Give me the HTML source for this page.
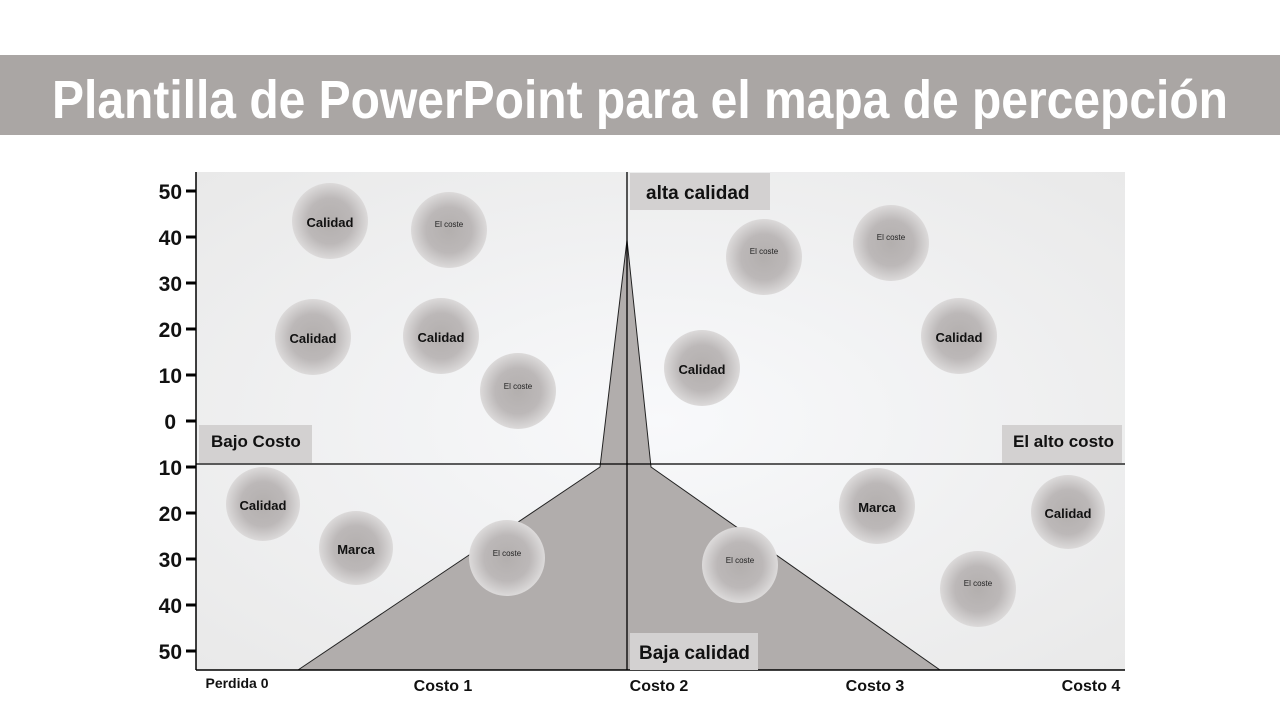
<!DOCTYPE html>
<html><head><meta charset="utf-8"><style>
body{margin:0;width:1280px;height:720px;background:#fff;overflow:hidden;font-family:"Liberation Sans",sans-serif}
</style></head><body>
<svg width="1280" height="720" xmlns="http://www.w3.org/2000/svg" font-family="Liberation Sans, sans-serif">
<defs>
<radialGradient id="bg" cx="0.5" cy="0.5" r="0.7">
<stop offset="0" stop-color="#f8f9fb"/><stop offset="1" stop-color="#e9e9e9"/>
</radialGradient>
<radialGradient id="b" cx="0.5" cy="0.5" r="0.5">
<stop offset="0" stop-color="#b3afae"/><stop offset="0.6" stop-color="#bcb8b8"/><stop offset="1" stop-color="#dcdada"/>
</radialGradient>
</defs>
<rect x="0" y="55" width="1280" height="80" fill="#aaa6a4"/>
<text x="52" y="118" textLength="1176" lengthAdjust="spacingAndGlyphs" font-size="54" font-weight="bold" fill="#fff">Plantilla de PowerPoint para el mapa de percepción</text>
<rect x="196" y="172" width="929" height="498" fill="url(#bg)"/>
<polygon points="298,670 600,467 627,240 651,467 940,670" fill="#b1adac" stroke="#222" stroke-width="1"/>
<line x1="196" y1="464" x2="1125" y2="464" stroke="#000" stroke-width="1.3"/>
<line x1="627" y1="172" x2="627" y2="670" stroke="#000" stroke-width="1.3"/>
<line x1="196" y1="172" x2="196" y2="670" stroke="#000" stroke-width="1.5"/>
<line x1="196" y1="670" x2="1125" y2="670" stroke="#000" stroke-width="1.5"/>
<g stroke="#000" stroke-width="3">
<line x1="186" y1="191" x2="196" y2="191"/><line x1="186" y1="237" x2="196" y2="237"/><line x1="186" y1="283" x2="196" y2="283"/><line x1="186" y1="329" x2="196" y2="329"/><line x1="186" y1="375" x2="196" y2="375"/><line x1="186" y1="421" x2="196" y2="421"/><line x1="186" y1="467" x2="196" y2="467"/><line x1="186" y1="513" x2="196" y2="513"/><line x1="186" y1="559" x2="196" y2="559"/><line x1="186" y1="605" x2="196" y2="605"/><line x1="186" y1="651" x2="196" y2="651"/>
</g>
<g font-size="21" font-weight="bold" text-anchor="end" fill="#111">
<text x="182" y="199">50</text><text x="182" y="245">40</text><text x="182" y="291">30</text><text x="182" y="337">20</text><text x="182" y="383">10</text><text x="176" y="429">0</text><text x="182" y="475">10</text><text x="182" y="521">20</text><text x="182" y="567">30</text><text x="182" y="613">40</text><text x="182" y="659">50</text>
</g>
<g font-size="16" font-weight="bold" fill="#111" text-anchor="middle">
<text x="237" y="688" font-size="14">Perdida 0</text><text x="443" y="691">Costo 1</text><text x="659" y="691">Costo 2</text><text x="875" y="691">Costo 3</text><text x="1091" y="691">Costo 4</text>
</g>
<g fill="#d3d1d1">
<rect x="630" y="173" width="140" height="37"/><rect x="199" y="425" width="113" height="38"/><rect x="1002" y="425" width="120" height="38"/><rect x="630" y="633" width="128" height="37"/>
</g>
<g font-size="19" font-weight="bold" fill="#111">
<text x="646" y="199">alta calidad</text><text x="211" y="447" font-size="17">Bajo Costo</text><text x="1013" y="447" font-size="17">El alto costo</text><text x="639" y="659">Baja calidad</text>
</g>
<g fill="url(#b)">
<circle cx="330" cy="221" r="38"/><circle cx="449" cy="230" r="38"/><circle cx="313" cy="337" r="38"/><circle cx="441" cy="336" r="38"/><circle cx="518" cy="391" r="38"/>
<circle cx="764" cy="257" r="38"/><circle cx="891" cy="243" r="38"/><circle cx="702" cy="368" r="38"/><circle cx="959" cy="336" r="38"/>
<circle cx="263" cy="504" r="37"/><circle cx="356" cy="548" r="37"/><circle cx="507" cy="558" r="38"/><circle cx="740" cy="565" r="38"/><circle cx="877" cy="506" r="38"/><circle cx="978" cy="589" r="38"/><circle cx="1068" cy="512" r="37"/>
</g>
<g font-size="13" font-weight="bold" fill="#111" text-anchor="middle">
<text x="330" y="227">Calidad</text><text x="313" y="343">Calidad</text><text x="441" y="342">Calidad</text><text x="702" y="374">Calidad</text><text x="959" y="342">Calidad</text><text x="263" y="510">Calidad</text><text x="356" y="554">Marca</text><text x="877" y="512">Marca</text><text x="1068" y="518">Calidad</text>
</g>
<g font-size="8" fill="#222" text-anchor="middle">
<text x="449" y="227">El coste</text><text x="518" y="389">El coste</text><text x="764" y="254">El coste</text><text x="891" y="240">El coste</text><text x="507" y="556">El coste</text><text x="740" y="563">El coste</text><text x="978" y="586">El coste</text>
</g>
</svg>
</body></html>
